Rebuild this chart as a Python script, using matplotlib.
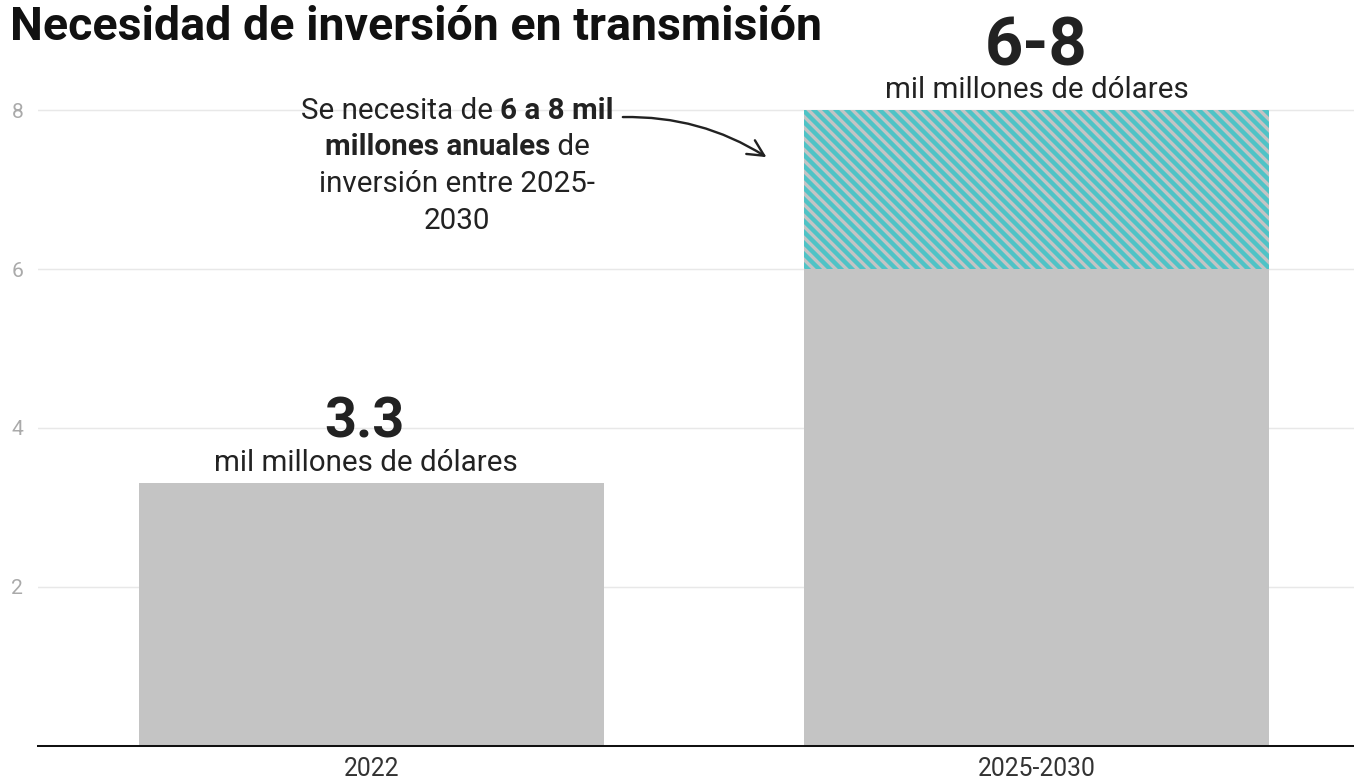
import matplotlib
matplotlib.use("Agg")
import matplotlib.pyplot as plt
from matplotlib.offsetbox import TextArea, HPacker, VPacker, AnnotationBbox

# ---- data ----
categories = ["2022", "2025-2030"]
base_values = [3.3, 6.0]
range_extra = [0.0, 2.0]
big_labels = ["3.3", "6-8"]
unit_label = "mil millones de dólares"
yticks = [2, 4, 6, 8]
title = "Necesidad de inversión en transmisión"

GRAY = "#c4c4c4"
TEAL = "#4fc3c6"
DARK = "#222222"

DPI = 132
plt.rcParams["font.family"] = ["Roboto", "DejaVu Sans"]
plt.rcParams["hatch.linewidth"] = 2.4

fig = plt.figure(figsize=(1354 / DPI, 781 / DPI), dpi=DPI)
W, H = 1354, 781
ax_bottom_px = 745.5
ax_top_px = 46.8
ax = fig.add_axes([38 / W, (H - ax_bottom_px) / H, 1 - 38 / W, (ax_bottom_px - ax_top_px) / H])

x = list(range(len(categories)))
ax.bar(x, base_values, width=0.7, color=GRAY, linewidth=0, zorder=2)
ax.bar(x, range_extra, bottom=base_values, width=0.7, facecolor=GRAY,
       edgecolor=TEAL, hatch="\\\\\\\\", linewidth=0, zorder=2)

ax.set_xlim(-0.5015, 1.4775)
ax.set_ylim(0, 8.8)
ax.set_yticks(yticks)
ax.set_yticklabels([str(v) for v in yticks])
ax.set_xticks(x)
ax.set_xticklabels(categories)

for s in ["top", "right", "left"]:
    ax.spines[s].set_visible(False)
ax.spines["bottom"].set_color("#111111")
ax.spines["bottom"].set_linewidth(1.1)
ax.spines["bottom"].set_zorder(3)
ax.grid(axis="y", color="#e8e8e8", linewidth=0.8, zorder=0)
ax.set_axisbelow(True)
ax.tick_params(axis="y", length=0, pad=8, labelsize=11.5, labelcolor="#aaaaaa")
ax.tick_params(axis="x", length=0, pad=6, labelsize=13.5, labelcolor="#333333")

# value labels above bars
tops = [b + e for b, e in zip(base_values, range_extra)]
big_sizes = [30.5, 36.5]
big_offsets = [0.58, 0.57]
for xi, top, lab, fs, off in zip(x, tops, big_labels, big_sizes, big_offsets):
    ax.text(xi - 0.01 * (1 - xi), top + off, lab, ha="center", va="baseline",
            fontsize=fs, fontweight="bold", color=DARK, zorder=4)
    ax.text(xi - 0.008 * (1 - xi), top + 0.16, unit_label, ha="center", va="baseline",
            fontsize=16.1, color=DARK, zorder=4)

# annotation with mixed weights
fs_ann = 16.2
def ta(t, bold=False):
    return TextArea(t, textprops=dict(fontsize=fs_ann, color=DARK,
                                      fontweight="bold" if bold else "normal",
                                      family=["Roboto", "DejaVu Sans"]))

lines = [
    HPacker(children=[ta("Se necesita de "), ta("6 a 8 mil", True)], align="baseline", pad=0, sep=0),
    HPacker(children=[ta("millones anuales", True), ta(" de")], align="baseline", pad=0, sep=0),
    HPacker(children=[ta("inversión entre 2025-")], align="baseline", pad=0, sep=0),
    HPacker(children=[ta("2030")], align="baseline", pad=0, sep=0),
]
block = VPacker(children=lines, align="center", pad=0, sep=4.8)
ab = AnnotationBbox(block, (0.129, 7.30), xycoords="data", box_alignment=(0.5, 0.5),
                    frameon=False, pad=0)
ax.add_artist(ab)

ax.annotate("", xy=(0.594, 7.41), xytext=(0.378, 7.915), xycoords="data",
            arrowprops=dict(arrowstyle="->", connectionstyle="arc3,rad=-0.15",
                            lw=1.3, color=DARK, mutation_scale=22,
                            shrinkA=0, shrinkB=0))

fig.text(10 / W, 1 - 40 / H, title, ha="left", va="baseline", fontsize=25.4,
         fontweight="bold", color="#111111")

fig.savefig("out.png", dpi=DPI)
